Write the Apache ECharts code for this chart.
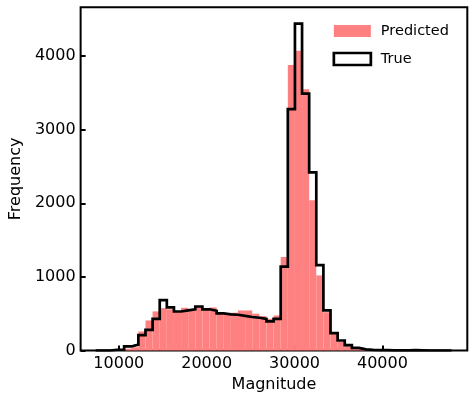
<!DOCTYPE html>
<html>
<head>
<meta charset="utf-8">
<script src="https://cdn.jsdelivr.net/npm/echarts@6.0.0/dist/echarts.min.js"></script>
<style>
html,body{margin:0;padding:0;background:#fff;}
#chart{width:475px;height:403px;}
</style>
</head>
<body>
<div id="chart"></div>
<script>
// Bin edges (Magnitude)
const binEdges = [7365, 8175, 8985, 9795, 10605, 11415, 12225, 13035, 13845, 14655,
  15465, 16275, 17085, 17895, 18705, 19515, 20325, 21135, 21945, 22755,
  23565, 24375, 25185, 25995, 26805, 27615, 28425, 29235, 30045, 30855,
  31665, 32475, 33285, 34095, 34905, 35715, 36525, 37335, 38145, 38955,
  39765, 40575, 41385, 42195, 43005, 43815, 44625, 45435, 46245, 47055, 47865];

// Counts per bin
const trueCounts = [0, 0, 10, 12, 55, 80, 210, 280, 430, 685,
  585, 530, 545, 560, 598, 560, 540, 505, 490, 486,
  470, 455, 445, 430, 395, 431, 1140, 3280, 4440, 3490,
  2420, 1160, 544, 235, 136, 72, 36, 15, 8, 5,
  4, 3, 2, 3, 6, 2, 0, 0, 0, 0];

const predCounts = [0, 0, 0, 5, 25, 45, 259, 408, 531, 576,
  560, 535, 580, 560, 590, 575, 585, 510, 505, 513,
  544, 544, 500, 467, 430, 476, 1270, 3878, 4072, 3551,
  2040, 1020, 520, 230, 120, 65, 30, 12, 5, 3,
  2, 1, 1, 1, 0, 0, 0, 0, 0, 0];

const xTicks = [10000, 20000, 30000, 40000];
const seriesNames = ['Predicted', 'True'];

const FONT = 'DejaVu Sans';

// Build data
const predData = predCounts.map((c, i) => [binEdges[i], binEdges[i + 1], c]);
const trueLine = [[binEdges[0], 0]];
trueCounts.forEach((c, i) => trueLine.push([binEdges[i], c]));
trueLine.push([binEdges[binEdges.length - 1], 0]);

const chart = echarts.init(document.getElementById('chart'), null, {renderer: 'canvas'});
chart.setOption({
  animation: false,
  backgroundColor: '#fff',
  textStyle: {fontFamily: FONT, color: '#000'},
  grid: {
    left: 76.7, right: 7.7, top: 7.3, bottom: 52.5,
    show: true, borderColor: '#000', borderWidth: 2, backgroundColor: 'transparent'
  },
  legend: {
    orient: 'vertical',
    left: 332.5,
    top: 23,
    padding: 0,
    itemWidth: 37,
    itemHeight: 12,
    itemGap: 12,
    textStyle: {fontFamily: FONT, fontSize: 14.5, color: '#000', lineHeight: 16, padding: [0, 0, 0, 5]},
    data: [
      {name: seriesNames[0], icon: 'rect', itemStyle: {color: '#ff8080', borderWidth: 0}},
      {name: seriesNames[1], icon: 'rect', itemStyle: {color: '#fff', borderColor: '#000', borderWidth: 2.7}}
    ]
  },
  xAxis: {
    type: 'value',
    min: 5653,
    max: 49662,
    name: 'Magnitude',
    nameLocation: 'middle',
    nameGap: 26,
    nameTextStyle: {fontFamily: FONT, fontSize: 16, color: '#000'},
    axisLine: {show: false},
    splitLine: {show: false},
    axisTick: {show: true, inside: true, length: 5, customValues: xTicks, lineStyle: {color: '#000', width: 2}},
    axisLabel: {show: true, margin: 5, customValues: xTicks, fontFamily: FONT, fontSize: 16, color: '#000',
      formatter: v => String(v)}
  },
  yAxis: {
    type: 'value',
    min: 0,
    max: 4663,
    interval: 1000,
    name: 'Frequency',
    nameLocation: 'middle',
    nameGap: 53,
    nameRotate: 90,
    nameTextStyle: {fontFamily: FONT, fontSize: 16, color: '#000'},
    axisLine: {show: false},
    splitLine: {show: false},
    axisTick: {show: true, inside: true, length: 5, lineStyle: {color: '#000', width: 2}},
    axisLabel: {show: true, margin: 5, fontFamily: FONT, fontSize: 16, color: '#000',
      showMaxLabel: false, formatter: v => String(v)}
  },
  series: [
    {
      name: seriesNames[0],
      type: 'custom',
      itemStyle: {color: '#ff8080'},
      encode: {x: [0, 1], y: 2},
      data: predData,
      z: 2,
      renderItem: function (params, api) {
        const lo = api.value(0), hi = api.value(1), c = api.value(2);
        const p0 = api.coord([lo, c]);
        const p1 = api.coord([hi, 0]);
        return {
          type: 'rect',
          shape: {x: p0[0], y: p0[1], width: p1[0] - p0[0], height: p1[1] - p0[1]},
          style: {fill: '#ff8080'}
        };
      }
    },
    {
      name: seriesNames[1],
      type: 'line',
      step: 'end',
      data: trueLine,
      showSymbol: false,
      symbol: 'none',
      z: 3,
      itemStyle: {color: '#000'},
      lineStyle: {color: '#000', width: 2.7, join: 'miter', cap: 'butt'}
    }
  ]
});
</script>
</body>
</html>
